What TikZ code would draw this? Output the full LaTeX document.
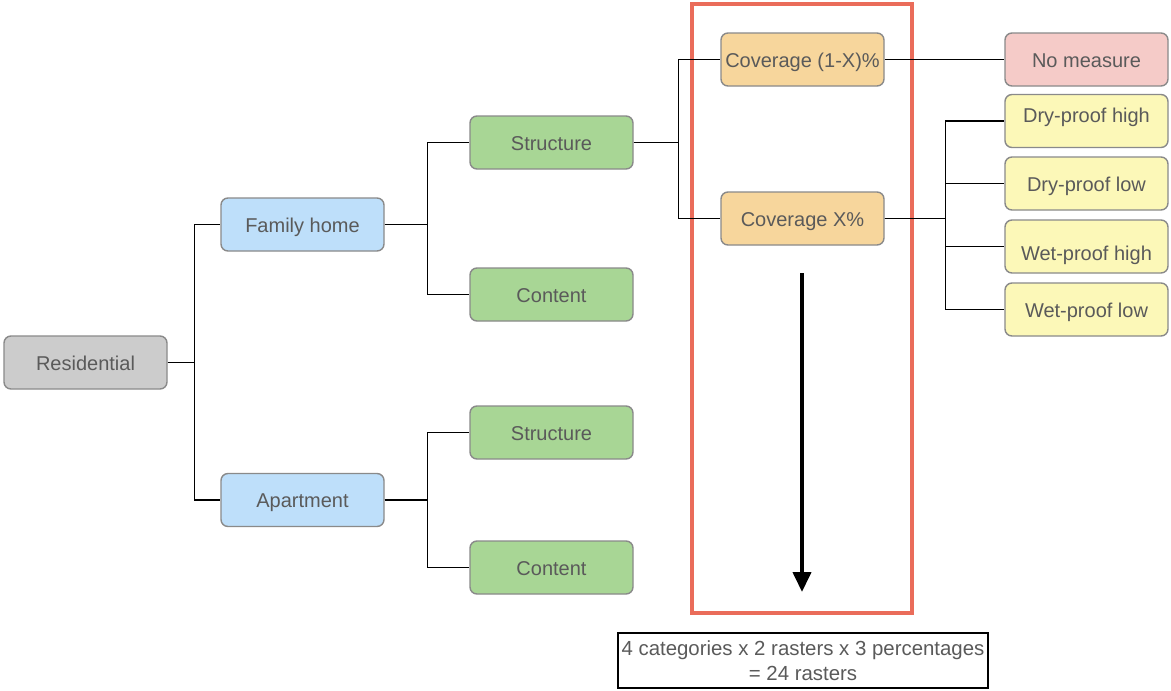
\documentclass[tikz,border=0pt]{standalone}
\usepackage{fontspec}
\setmainfont{Liberation Sans}
\usetikzlibrary{arrows.meta}

\definecolor{txtgray}{HTML}{5A5A5A}
\definecolor{edgegray}{HTML}{8A8A8A}
\definecolor{resfill}{HTML}{CCCCCC}
\definecolor{bluefill}{HTML}{BEDFFA}
\definecolor{greenfill}{HTML}{A8D695}
\definecolor{orangefill}{HTML}{F7D69C}
\definecolor{pinkfill}{HTML}{F5CBC8}
\definecolor{yellowfill}{HTML}{FCF8B8}
\definecolor{framered}{HTML}{EA6C5A}

\tikzset{
  box/.style={draw=edgegray, line width=1.4pt, rounded corners=7pt,
    minimum width=163pt, minimum height=53pt, inner sep=0pt,
    text=txtgray, font=\fontsize{20}{24}\selectfont,
    text height=17pt, text depth=2pt},
  link/.style={draw=black, line width=1.5pt},
}

\begin{document}
\begin{tikzpicture}[x=1pt, y=-1pt]
  \useasboundingbox[fill=white] (0,0) rectangle (1171,691);

  % highlighted branch
  \node[draw=framered, line width=4pt, minimum width=220pt, minimum height=609pt,
        inner sep=0pt] (frame) at (802,308.5) {};

  % tree nodes
  \node[box, fill=resfill]    (res)  at (85.5,362.5)  {Residential};
  \node[box, fill=bluefill]   (fam)  at (302.5,224.5) {Family home};
  \node[box, fill=bluefill]   (apt)  at (302.5,500)   {Apartment};
  \node[box, fill=greenfill]  (fs)   at (551.5,142.5) {Structure};
  \node[box, fill=greenfill]  (fc)   at (551.5,294.5) {Content};
  \node[box, fill=greenfill]  (as)   at (551.5,432.5) {Structure};
  \node[box, fill=greenfill]  (ac)   at (551.5,567.5) {Content};
  \node[box, fill=orangefill] (cov1) at (802.5,59.5)  {Coverage (1-X)\%};
  \node[box, fill=orangefill] (covx) at (802.5,218.5) {Coverage X\%};
  \node[box, fill=pinkfill]   (nom)  at (1086.5,59.5) {No measure};
  \node[box, fill=yellowfill, text depth=14pt] (dph) at (1086.5,121) {Dry-proof high};
  \node[box, fill=yellowfill] (dpl)  at (1086.5,183.5){Dry-proof low};
  \node[box, fill=yellowfill, text height=30pt] (wph) at (1086.5,246.5) {Wet-proof high};
  \node[box, fill=yellowfill] (wpl)  at (1086.5,309.5){Wet-proof low};

  % connectors
  \draw[link] (res.east) -- ++(27,0) |- (fam.west);
  \draw[link] (res.east) -- ++(27,0) |- (apt.west);
  \draw[link] (fam.east) -- ++(43,0) |- (fs.west);
  \draw[link] (fam.east) -- ++(43,0) |- (fc.west);
  \draw[link] (apt.east) -- ++(43,0) |- (as.west);
  \draw[link] (apt.east) -- ++(43,0) |- (ac.west);
  \draw[link] (fs.east) -- ++(45,0) |- (cov1.west);
  \draw[link] (fs.east) -- ++(45,0) |- (covx.west);
  \draw[link] (cov1.east) -- (nom.west);
  \draw[link] (covx.east) -- ++(61,0) |- (dph.west);
  \draw[link] (covx.east) -- ++(61,0) |- (dpl.west);
  \draw[link] (covx.east) -- ++(61,0) |- (wph.west);
  \draw[link] (covx.east) -- ++(61,0) |- (wpl.west);

  % downward arrow inside the frame
  \coordinate (atop) at (802,273);
  \coordinate (abot) at (802,592);
  \draw[line width=4pt, -{Triangle[length=20pt,width=18pt]}] (atop) -- (abot);

  % summary
  \node[draw=black, line width=1.4pt, minimum width=370pt, minimum height=55pt,
        inner sep=0pt, align=center, text=txtgray,
        font=\fontsize{20.4}{24.5}\selectfont] (sum) at (803,660.5)
        {4 categories x 2 rasters x 3 percentages\\= 24 rasters};
\end{tikzpicture}
\end{document}
